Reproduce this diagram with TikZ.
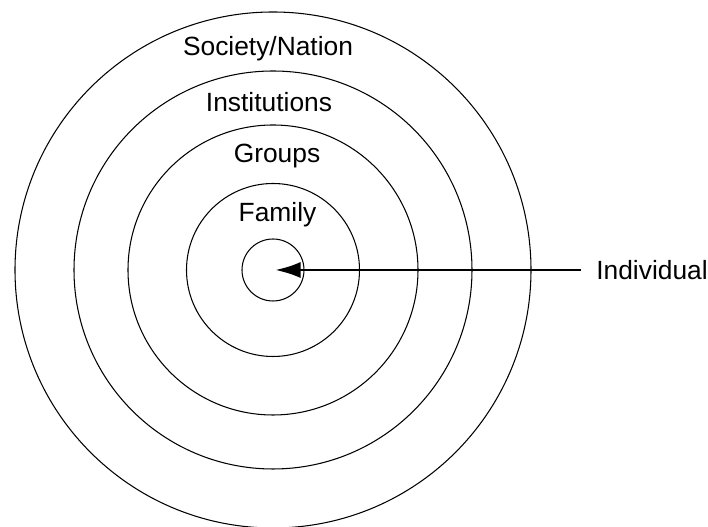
\documentclass[tikz,border=0pt]{standalone}
\usepackage{fontspec}
\setmainfont{Liberation Sans}
\usetikzlibrary{arrows.meta}

\begin{document}
\begin{tikzpicture}[>={Latex[length=5mm,width=3.2mm]}]
 \useasboundingbox (0,0) rectangle (14.16,10.54);
 %\draw [help lines] (0,0) grid (14,10);
 \coordinate (C) at (5.46,5.14);
 \draw [line width=0.6pt] (C) circle (5.16cm);
 \draw [line width=0.6pt] (C) circle (3.98cm);
 \draw [line width=0.6pt] (C) circle (2.90cm);
 \draw [line width=0.6pt] (C) circle (1.73cm);
 \draw [line width=0.6pt] (C) circle (0.62cm);
 %
 \node [font=\fontsize{15}{18}\selectfont, anchor=base, inner sep=0] (S) at (5.36,9.42) {Society/Nation};
 \node [font=\fontsize{15}{18}\selectfont, anchor=base, inner sep=0] (I) at (5.38,8.30) {Institutions};
 \node [font=\fontsize{15}{18}\selectfont, anchor=base, inner sep=0] (G) at (5.54,7.28) {Groups};
 \node [font=\fontsize{15}{18}\selectfont, anchor=base, inner sep=0] (F) at (5.55,6.10) {Family};
 \node [font=\fontsize{15}{18}\selectfont, anchor=base west, inner sep=0] (N) at (11.92,4.95) {Individual};
 %
 \coordinate (T) at (11.61,5.14);
 \coordinate (H) at (5.51,5.14);
 \draw [->, line width=1.2pt] (T) -- (H);
\end{tikzpicture}
\end{document}
